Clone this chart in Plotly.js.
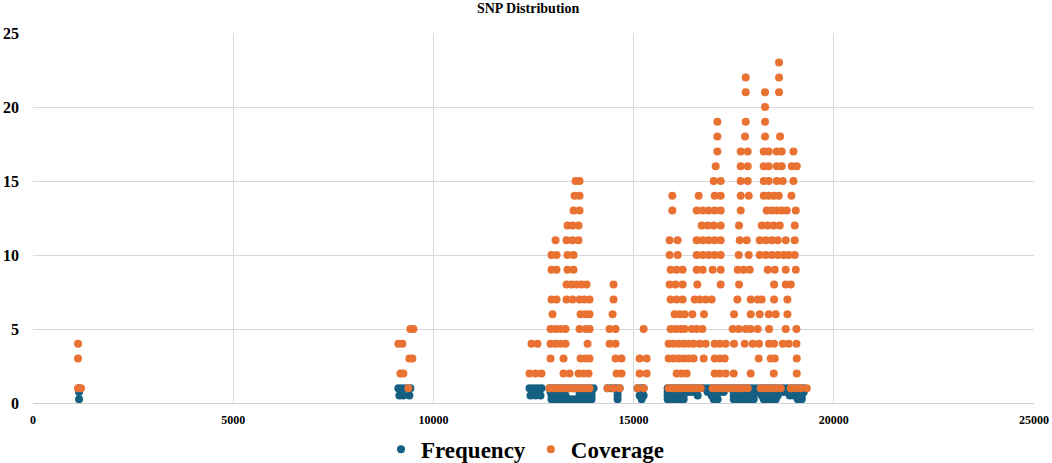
<!DOCTYPE html>
<html>
<head>
<meta charset="utf-8">
<script src="https://cdn.plot.ly/plotly-3.0.1.min.js"></script>
<style>body{margin:0;background:#fff}</style>
</head>
<body>
<div id="chart" style="width:1052px;height:463px"></div>
<script>
// coverage values, one row of SNP positions per coverage level
const covLevels = [23, 22, 21, 20, 19, 18, 17, 16, 15, 14, 13, 12, 11, 10, 9, 8, 7, 6, 5, 4, 3, 2, 1];
const covPositions = [
    [18633],
    [17800, 18633],
    [17800, 18283, 18633],
    [18283],
    [17092, 17800, 18283],
    [17092, 17783, 18283, 18658],
    [17092, 17675, 17850, 18250, 18375, 18575, 18700, 18992],
    [17050, 17675, 17850, 18250, 18375, 18575, 18700, 18950, 19075],
    [13550, 13650, 17000, 17175, 17675, 17850, 18250, 18375, 18575, 18725, 18992],
    [13525, 13650, 15967, 16625, 17025, 17175, 17675, 17875, 18250, 18375, 18500, 18625, 18942],
    [13500, 13650, 15967, 16575, 16725, 16875, 17025, 17175, 17675, 18325, 18450, 18575, 18700, 18825, 19050],
    [13350, 13475, 13625, 16700, 16850, 17000, 17175, 17633, 18200, 18350, 18500, 18650, 19025],
    [13050, 13325, 13475, 13625, 15900, 16100, 16575, 16725, 16875, 17025, 17175, 17650, 17825, 18150, 18300, 18450, 18600, 18800, 19025],
    [12950, 13075, 13350, 13500, 15900, 16100, 16575, 16725, 16875, 17025, 17175, 17625, 17875, 18150, 18300, 18450, 18600, 18750, 18875, 19025],
    [12950, 13075, 13350, 13500, 15925, 16075, 16225, 16575, 16725, 16975, 17175, 17600, 17750, 17900, 18350, 18525, 18800, 19050],
    [13325, 13450, 13575, 13700, 13825, 14500, 15900, 16050, 16225, 16592, 17175, 17633, 18508, 18800, 18925],
    [12950, 13075, 13325, 13475, 13650, 13775, 13900, 14500, 15925, 16075, 16225, 16525, 16650, 16800, 16950, 17592, 17925, 18100, 18200, 18508, 18842],
    [12975, 13675, 13800, 13900, 14475, 16025, 16150, 16275, 16467, 16758, 17508, 17925, 18150, 18375, 18550, 18842],
    [9425, 9500, 12925, 13050, 13175, 13300, 13650, 13800, 13900, 14400, 14550, 15250, 15925, 16050, 16175, 16275, 16450, 16575, 16717, 17475, 17625, 17800, 17925, 18100, 18383, 18800, 19067],
    [1125, 9125, 9225, 12450, 12600, 12925, 13050, 13175, 13300, 13850, 14400, 14550, 15875, 16000, 16125, 16250, 16375, 16500, 16650, 16800, 17025, 17150, 17300, 17508, 17775, 17975, 18133, 18383, 18508, 18725, 18875, 19067],
    [1125, 9400, 9475, 12925, 13250, 13675, 13800, 13900, 14550, 14700, 15150, 15325, 15875, 16000, 16125, 16250, 16375, 16500, 16750, 17025, 17150, 17275, 18125, 18425, 18525, 19075],
    [9175, 9250, 12400, 12550, 12700, 13250, 13400, 13625, 13750, 13875, 14575, 14700, 15150, 15325, 16075, 16200, 16325, 17025, 17150, 17300, 17500, 17925, 18500, 19075],
    [1125, 1200, 9375, 12900, 13000, 13100, 13200, 13300, 13400, 13500, 13600, 13700, 13800, 13900, 14350, 14500, 14650, 15100, 15250, 15875, 15975, 16075, 16175, 16275, 16375, 16475, 16575, 16675, 16975, 17100, 17225, 17350, 17475, 17600, 17725, 17850, 18175, 18300, 18425, 18550, 18675, 18925, 19050, 19175, 19325]
];

// allele frequency, grouped by approximate value
const freqLevels = [1, 0.75, 0.5, 0.25];
const freqPositions = [
    [1150, 9125, 9225, 9325, 9425, 12400, 12500, 12600, 12700, 12900, 13000, 13100, 13200, 13300, 13400, 13500, 13600, 13700, 13800, 13900, 14000,
     14350, 14450, 14550, 14650, 15100, 15200, 15250,
     15850, 15950, 16050, 16150, 16250, 16350, 16450, 16550, 16650, 16750, 16850, 16950, 17050, 17150, 17250, 17350, 17450, 17550,
     17650, 17750, 17850, 17950, 18050, 18150, 18250, 18350, 18450, 18550, 18650, 18750, 18850, 18950, 19050, 19150, 19250],
    [1150, 12925, 13050, 13150, 13250, 13650, 13750, 13850, 13950, 14600, 15200, 15850, 15950, 16050, 16150, 16250, 16350, 16450,
     16850, 16950, 17050, 17150, 17250, 17500, 17600, 17700, 17800, 17900, 18000, 18100, 18200, 18300, 18400, 18500, 18600,
     18750, 18850, 18950, 19050, 19150, 19250],
    [9150, 9250, 9400, 12425, 12550, 12675, 12950, 13075, 13200, 13300, 13650, 13750, 13850, 13950, 14600, 15150, 15250,
     15850, 15950, 16050, 16150, 16250, 16600, 16950, 17050, 17500, 17600, 17700, 17800, 17900, 18000,
     18200, 18300, 18400, 18500, 18600, 18900, 19000, 19100, 19200],
    [1150, 12950, 13050, 13150, 13250, 13350, 13450, 13550, 13650, 13750, 13850, 13950, 14600, 15200,
     15850, 15950, 16050, 16150, 16250, 17000, 17100, 17500, 17600, 17700, 17800, 17900, 18000,
     18250, 18350, 18450, 18550, 19100, 19200]
];

const xTicks = [0, 5000, 10000, 15000, 20000, 25000];
const yTicks = [0, 5, 10, 15, 20, 25];

function toPoints(levels, positions) {
    const x = [], y = [];
    levels.forEach((lv, i) => positions[i].forEach(p => { x.push(p); y.push(lv); }));
    return {x, y};
}

const freq = toPoints(freqLevels, freqPositions);
const cov = toPoints(covLevels, covPositions);

const serif = 'Liberation Serif, Times New Roman, serif';

var freqTrace = {
    x: freq.x, y: freq.y,
    name: 'Frequency',
    type: 'scatter', mode: 'markers',
    cliponaxis: false,
    marker: {color: '#156082', size: 8}
};
var covTrace = {
    x: cov.x, y: cov.y,
    name: 'Coverage',
    type: 'scatter', mode: 'markers',
    cliponaxis: false,
    marker: {color: '#E97132', size: 8}
};

const layout = {
    width: 1052,
    height: 463,
    margin: {l: 33, r: 18, t: 33, b: 60, autoexpand: false},
    paper_bgcolor: '#fff',
    plot_bgcolor: '#fff',
    font: {family: serif, color: '#000'},
    title: {
        text: 'SNP Distribution',
        font: {family: serif, size: 14, weight: 'bold', color: '#000'},
        x: 0.502, y: 0.982, yanchor: 'middle'
    },
    xaxis: {
        range: [0, 25000],
        tickvals: xTicks,
        tickformat: 'd',
        showgrid: true,
        gridcolor: '#d9d9d9',
        zeroline: false,
        showline: true,
        linecolor: '#d0d0d0',
        ticks: '',
        ticklabelstandoff: 6,
        tickfont: {family: serif, size: 12, weight: 'bold', color: '#000'}
    },
    yaxis: {
        range: [0, 25],
        tickvals: yTicks,
        showgrid: true,
        gridcolor: '#d9d9d9',
        zeroline: false,
        showline: false,
        ticks: '',
        ticklabelstandoff: 13,
        tickfont: {family: serif, size: 16, weight: 'bold', color: '#000'}
    },
    showlegend: true,
    legend: {
        orientation: 'h',
        x: 0.492, xanchor: 'center',
        y: -0.125, yanchor: 'middle',
        font: {family: serif, size: 23, weight: 'bold', color: '#000'}
    }
};

Plotly.newPlot('chart', [freqTrace, covTrace], layout, {displayModeBar: false});
</script>
</body>
</html>
